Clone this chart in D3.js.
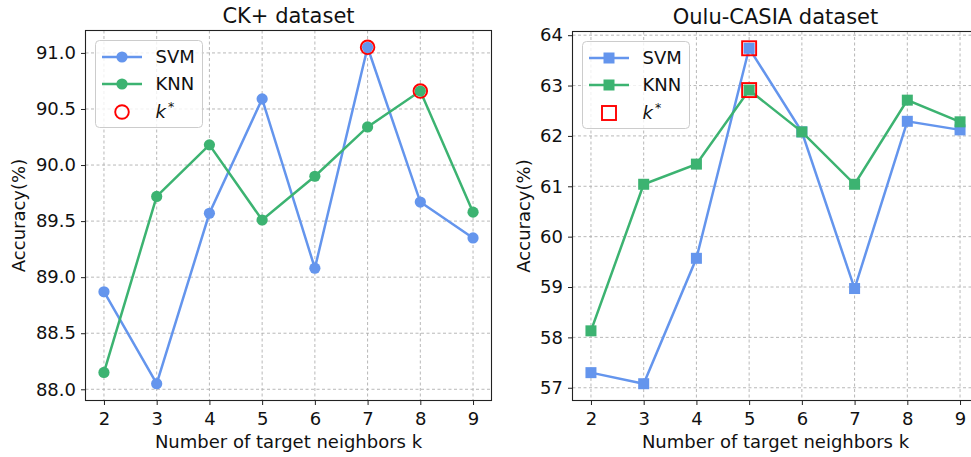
<!DOCTYPE html>
<html><head><meta charset="utf-8">
<script src="https://cdn.jsdelivr.net/npm/d3@7"></script>
<style>body{margin:0;background:#fff}svg{display:block;font-family:"DejaVu Sans",sans-serif}</style>
</head><body><svg id="c" width="971" height="457"></svg>
<script>
const ks = [2,3,4,5,6,7,8,9];
const ckSVM = [88.87,88.05,89.57,90.59,89.08,91.05,89.67,89.35];
const ckKNN = [88.15,89.72,90.18,89.51,89.90,90.34,90.66,89.58];
const ckTicks = [88.0,88.5,89.0,89.5,90.0,90.5,91.0];
const ckBest = [{series:"SVM",k:7},{series:"KNN",k:8}];
const ouSVM = [57.30,57.08,59.57,63.74,62.08,58.97,62.29,62.12];
const ouKNN = [58.13,61.04,61.44,62.91,62.08,61.04,62.71,62.28];
const ouTicks = [57,58,59,60,61,62,63,64];
const ouBest = [{series:"SVM",k:5},{series:"KNN",k:5}];
const titles = ["CK+ dataset","Oulu-CASIA dataset"];
const colors = {SVM:"#6495ED", KNN:"#3CB371"};

const svg = d3.select("#c");
const FS = 18;

function panel(cfg){
  const {left,right,top,bottom,svm,knn,ticks,fmt,best,shape,title,ylabX} = cfg;
  const g = svg.append("g");
  const x = d3.scaleLinear().domain([1.65,9.35]).range([left,right]);
  const all = svm.concat(knn);
  const mn = d3.min(all), mx = d3.max(all), m = (mx-mn)*0.05;
  const y = d3.scaleLinear().domain([mn-m,mx+m]).range([bottom,top]);
  // grid
  g.append("g").selectAll("line.gx").data(ks).join("line")
    .attr("x1",d=>x(d)).attr("x2",d=>x(d)).attr("y1",top).attr("y2",bottom)
    .attr("stroke","#b0b0b0").attr("stroke-width",0.9).attr("stroke-dasharray","3,2.5");
  g.append("g").selectAll("line.gy").data(ticks).join("line")
    .attr("x1",left).attr("x2",right).attr("y1",d=>y(d)).attr("y2",d=>y(d))
    .attr("stroke","#b0b0b0").attr("stroke-width",0.9).attr("stroke-dasharray","3,2.5");
  // axes
  const xa = g.append("g").attr("transform",`translate(0,${bottom})`)
    .call(d3.axisBottom(x).tickValues(ks).tickFormat(d3.format("d")).tickSize(4.5).tickPadding(5));
  const ya = g.append("g").attr("transform",`translate(${left},0)`)
    .call(d3.axisLeft(y).tickValues(ticks).tickFormat(fmt).tickSize(4.5).tickPadding(5));
  [xa,ya].forEach(a=>{a.select(".domain").remove();
    a.selectAll("text").attr("font-size",FS).attr("fill","#111").attr("font-family","DejaVu Sans");
    a.selectAll("line").attr("stroke","#222");});
  xa.selectAll("text").attr("dy","0.82em");
  // spines
  g.append("rect").attr("x",left).attr("y",top).attr("width",right-left).attr("height",bottom-top)
    .attr("fill","none").attr("stroke","#222").attr("stroke-width",1.1);
  // lines
  const line = d3.line().x((d,i)=>x(ks[i])).y(d=>y(d));
  const series = [["SVM",svm],["KNN",knn]];
  series.forEach(([name,vals])=>{
    g.append("path").datum(vals).attr("d",line).attr("fill","none")
      .attr("stroke",colors[name]).attr("stroke-width",2.5);
    if(shape==="circle"){
      g.append("g").selectAll("circle").data(vals).join("circle")
        .attr("cx",(d,i)=>x(ks[i])).attr("cy",d=>y(d)).attr("r",5.6).attr("fill",colors[name]);
    } else {
      g.append("g").selectAll("rect").data(vals).join("rect")
        .attr("x",(d,i)=>x(ks[i])-5.5).attr("y",d=>y(d)-5.5).attr("width",11).attr("height",11).attr("fill",colors[name]);
    }
  });
  // k* markers
  best.forEach(b=>{
    const vals = b.series==="SVM"?svm:knn;
    const v = vals[ks.indexOf(b.k)];
    if(shape==="circle"){
      g.append("circle").attr("cx",x(b.k)).attr("cy",y(v)).attr("r",6.8)
        .attr("fill","none").attr("stroke","red").attr("stroke-width",1.9);
    } else {
      g.append("rect").attr("x",x(b.k)-7).attr("y",y(v)-7).attr("width",14).attr("height",14)
        .attr("fill","none").attr("stroke","red").attr("stroke-width",1.9);
    }
  });
  // labels
  g.append("text").attr("x",(left+right)/2).attr("y",bottom+47).attr("text-anchor","middle")
    .attr("font-size",FS).attr("fill","#111").text("Number of target neighbors k");
  g.append("text").attr("transform",`translate(${ylabX},${(top+bottom)/2}) rotate(-90)`)
    .attr("text-anchor","middle").attr("dy","0.35em").attr("font-size",FS).attr("fill","#111").text("Accuracy(%)");
  g.append("text").attr("x",(left+right)/2).attr("y",top-8).attr("text-anchor","middle")
    .attr("font-size",21).attr("fill","#111").text(title);
  // legend
  const lx = left+10, ly = top+10;
  g.append("rect").attr("x",lx).attr("y",ly).attr("width",107).attr("height",87).attr("rx",4)
    .attr("fill","white").attr("fill-opacity",0.8).attr("stroke","#ccc").attr("stroke-width",1);
  const rows = [["SVM",ly+16.5],["KNN",ly+43.5]];
  rows.forEach(([name,yy])=>{
    g.append("line").attr("x1",lx+6.5).attr("x2",lx+46.5).attr("y1",yy).attr("y2",yy)
      .attr("stroke",colors[name]).attr("stroke-width",2.5);
    if(shape==="circle") g.append("circle").attr("cx",lx+26.5).attr("cy",yy).attr("r",5.6).attr("fill",colors[name]);
    else g.append("rect").attr("x",lx+21).attr("y",yy-5.5).attr("width",11).attr("height",11).attr("fill",colors[name]);
    g.append("text").attr("x",lx+60).attr("y",yy).attr("dy","0.36em").attr("font-size",FS).attr("fill","#111").text(name);
  });
  const ky = ly+71.5;
  if(shape==="circle") g.append("circle").attr("cx",lx+26.5).attr("cy",ky).attr("r",6.8).attr("fill","none").attr("stroke","red").attr("stroke-width",1.9);
  else g.append("rect").attr("x",lx+19.5).attr("y",ky-7).attr("width",14).attr("height",14).attr("fill","none").attr("stroke","red").attr("stroke-width",1.9);
  const kt = g.append("text").attr("x",lx+60).attr("y",ky).attr("dy","0.36em").attr("font-size",FS).attr("fill","#111");
  kt.append("tspan").attr("font-style","italic").text("k");
  kt.append("tspan").attr("font-size",12.5).attr("dx","2").attr("dy","-0.6em").text("*");
}

panel({left:85.5,right:491.5,top:30.5,bottom:400.5,svm:ckSVM,knn:ckKNN,ticks:ckTicks,
  fmt:d3.format(".1f"),best:ckBest,shape:"circle",title:titles[0],ylabX:19});
panel({left:572.5,right:978.5,top:31.5,bottom:400.5,svm:ouSVM,knn:ouKNN,ticks:ouTicks,
  fmt:d3.format("d"),best:ouBest,shape:"square",title:titles[1],ylabX:524});
</script></body></html>
